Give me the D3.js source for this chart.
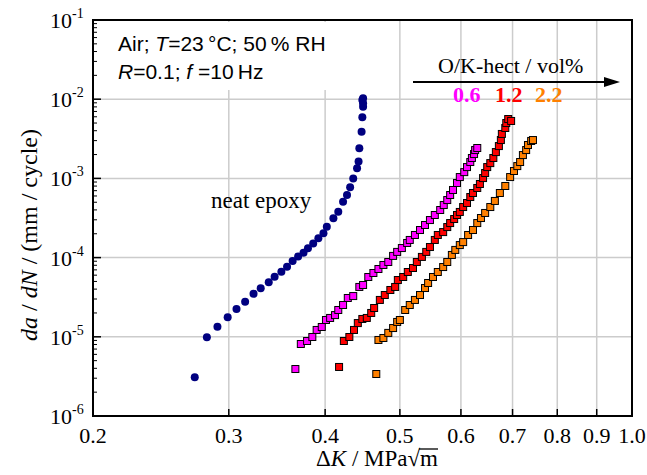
<!DOCTYPE html>
<html>
<head>
<meta charset="utf-8">
<script src="https://cdn.jsdelivr.net/npm/d3@7"></script>
<style>
  body { margin: 0; background: #fff; }
  .serif { font-family: "Liberation Serif", "DejaVu Serif", "Times New Roman", Times, serif; }
  .sans { font-family: "Liberation Sans", Arial, "DejaVu Sans", sans-serif; }
</style>
</head>
<body>
<div id="chart"></div>
<script>
// tick values / labels
const xTicks = [0.2, 0.3, 0.4, 0.5, 0.6, 0.7, 0.8, 0.9, 1.0];
const xTickLabels = ["0.2", "0.3", "0.4", "0.5", "0.6", "0.7", "0.8", "0.9", "1.0"];
const yExponents = [-1, -2, -3, -4, -5, -6];

// [dK (MPa m^0.5), da/dN (mm/cycle)]
const neatEpoxy = [
  [0.271, 3.08e-6], [0.281, 9.86e-6], [0.290, 1.34e-5], [0.299, 1.76e-5], [0.307, 2.24e-5],
  [0.315, 2.77e-5], [0.323, 3.50e-5], [0.330, 4.09e-5], [0.338, 4.88e-5], [0.344, 5.74e-5],
  [0.351, 6.64e-5], [0.357, 7.67e-5], [0.363, 9.06e-5], [0.369, 1.03e-4], [0.375, 1.15e-4],
  [0.380, 1.31e-4], [0.386, 1.51e-4], [0.392, 1.75e-4], [0.398, 2.03e-4], [0.402, 2.46e-4],
  [0.410, 3.13e-4], [0.416, 3.80e-4], [0.422, 5.08e-4], [0.427, 6.17e-4], [0.431, 7.71e-4],
  [0.435, 1.00e-3], [0.440, 1.34e-3], [0.442, 1.63e-3], [0.443, 2.40e-3], [0.446, 3.89e-3],
  [0.447, 5.91e-3], [0.448, 8.04e-3], [0.448, 8.87e-3], [0.447, 9.77e-3], [0.448, 1.03e-2]
];
const hect06 = [
  [0.366, 3.92e-6], [0.372, 8.11e-6], [0.379, 8.85e-6], [0.385, 9.94e-6], [0.390, 1.22e-5],
  [0.396, 1.33e-5], [0.401, 1.63e-5], [0.406, 1.73e-5], [0.412, 1.88e-5], [0.416, 2.18e-5],
  [0.422, 2.52e-5], [0.428, 3.09e-5], [0.435, 3.27e-5], [0.443, 4.26e-5], [0.448, 4.51e-5],
  [0.455, 5.69e-5], [0.462, 6.39e-5], [0.469, 7.18e-5], [0.476, 8.07e-5], [0.483, 8.80e-5],
  [0.490, 1.05e-4], [0.496, 1.18e-4], [0.503, 1.32e-4], [0.511, 1.53e-4], [0.515, 1.67e-4],
  [0.523, 1.93e-4], [0.531, 2.23e-4], [0.539, 2.58e-4], [0.547, 2.98e-4], [0.555, 3.45e-4],
  [0.564, 3.99e-4], [0.570, 4.61e-4], [0.576, 5.33e-4], [0.581, 6.17e-4], [0.586, 7.14e-4],
  [0.593, 8.75e-4], [0.598, 1.04e-3], [0.606, 1.20e-3], [0.611, 1.39e-3], [0.617, 1.61e-3],
  [0.620, 1.81e-3], [0.624, 2.03e-3], [0.626, 2.28e-3], [0.630, 2.42e-3]
];
const hect12 = [
  [0.417, 4.16e-6], [0.423, 8.85e-6], [0.430, 9.94e-6], [0.436, 1.22e-5], [0.441, 1.49e-5],
  [0.447, 1.68e-5], [0.453, 1.73e-5], [0.459, 2.00e-5], [0.463, 2.31e-5], [0.471, 2.92e-5],
  [0.478, 3.37e-5], [0.486, 3.90e-5], [0.493, 4.26e-5], [0.497, 5.21e-5], [0.505, 5.69e-5],
  [0.512, 6.58e-5], [0.520, 7.39e-5], [0.526, 8.80e-5], [0.534, 1.02e-4], [0.541, 1.18e-4],
  [0.547, 1.36e-4], [0.555, 1.67e-4], [0.560, 1.93e-4], [0.569, 2.10e-4], [0.576, 2.43e-4],
  [0.581, 2.73e-4], [0.588, 3.07e-4], [0.593, 3.45e-4], [0.598, 3.77e-4], [0.604, 4.35e-4],
  [0.611, 4.89e-4], [0.617, 5.82e-4], [0.622, 6.54e-4], [0.630, 7.57e-4], [0.635, 8.50e-4],
  [0.641, 1.01e-3], [0.645, 1.17e-3], [0.649, 1.39e-3], [0.655, 1.56e-3], [0.661, 1.81e-3],
  [0.666, 2.15e-3], [0.672, 2.56e-3], [0.676, 3.05e-3], [0.678, 3.64e-3], [0.685, 4.33e-3],
  [0.687, 5.00e-3], [0.691, 5.62e-3], [0.697, 5.31e-3]
];
const hect22 = [
  [0.466, 3.39e-6], [0.469, 9.12e-6], [0.476, 9.66e-6], [0.483, 1.12e-5], [0.490, 1.29e-5],
  [0.496, 1.54e-5], [0.500, 1.63e-5], [0.508, 2.18e-5], [0.515, 2.52e-5], [0.523, 2.92e-5],
  [0.531, 3.37e-5], [0.539, 4.13e-5], [0.544, 4.78e-5], [0.552, 5.69e-5], [0.560, 6.58e-5],
  [0.569, 7.60e-5], [0.576, 8.80e-5], [0.584, 1.08e-4], [0.590, 1.25e-4], [0.598, 1.44e-4],
  [0.604, 1.57e-4], [0.613, 1.93e-4], [0.622, 2.23e-4], [0.630, 2.73e-4], [0.637, 3.16e-4],
  [0.645, 3.66e-4], [0.655, 4.35e-4], [0.664, 5.19e-4], [0.674, 6.54e-4], [0.685, 8.02e-4],
  [0.695, 1.04e-3], [0.703, 1.24e-3], [0.710, 1.43e-3], [0.716, 1.61e-3], [0.722, 1.97e-3],
  [0.729, 2.28e-3], [0.733, 2.64e-3], [0.740, 2.97e-3], [0.744, 3.05e-3]
];
const hectNames = ["0.6", "1.2", "2.2"];
const hectColors = ["#ff00ff", "#ff0000", "#ff8000"];
const hectSeries = [hect06, hect12, hect22];

const W = 647, H = 475;
var margin = { top: 20, right: 15, bottom: 59, left: 93 },
  width = W - margin.left - margin.right,
  height = H - margin.top - margin.bottom;

var svg = d3.select("#chart").append("svg")
  .attr("width", W).attr("height", H);
var g = svg.append("g")
  .attr("transform", "translate(" + margin.left + "," + margin.top + ")");

var x = d3.scaleLog().domain([0.2, 1.0]).range([0, width]);
var y = d3.scaleLog().domain([1e-6, 1e-1]).range([height, 0]);

// grid
g.selectAll(".vgrid").data(xTicks.slice(1, -1)).enter().append("line")
  .attr("x1", d => x(d)).attr("x2", d => x(d))
  .attr("y1", 0).attr("y2", height)
  .attr("stroke", "#cccccc").attr("stroke-width", 1.5);
g.selectAll(".hgrid").data(yExponents.slice(1, -1)).enter().append("line")
  .attr("x1", 0).attr("x2", width)
  .attr("y1", d => y(Math.pow(10, d))).attr("y2", d => y(Math.pow(10, d)))
  .attr("stroke", "#cccccc").attr("stroke-width", 1.5);

// white box behind the test conditions
g.append("rect").attr("x", 2).attr("y", 2).attr("width", 250).attr("height", 68)
  .attr("fill", "#fff");

// ticks (inward)
var minor = [];
for (let e = -6; e < -1; e++) for (let m = 2; m <= 9; m++) minor.push(m * Math.pow(10, e));
g.selectAll(".ymin").data(minor).enter().append("line")
  .attr("x1", 0).attr("x2", 4)
  .attr("y1", d => y(d)).attr("y2", d => y(d))
  .attr("stroke", "#000").attr("stroke-width", 1);
g.selectAll(".ymaj").data(yExponents).enter().append("line")
  .attr("x1", 0).attr("x2", 8)
  .attr("y1", d => y(Math.pow(10, d))).attr("y2", d => y(Math.pow(10, d)))
  .attr("stroke", "#000").attr("stroke-width", 1.5);
g.selectAll(".xmaj").data(xTicks.slice(1, -1)).enter().append("line")
  .attr("x1", d => x(d)).attr("x2", d => x(d))
  .attr("y1", height).attr("y2", height - 7)
  .attr("stroke", "#000").attr("stroke-width", 1.5);

// tick labels
g.selectAll(".ylab").data(yExponents).enter().append("text")
  .attr("class", "serif")
  .attr("x", -21).attr("y", d => y(Math.pow(10, d)) + 8)
  .attr("text-anchor", "end")
  .style("font-size", "22px")
  .text("10");
g.selectAll(".ysup").data(yExponents).enter().append("text")
  .attr("class", "serif")
  .attr("x", -21).attr("y", d => y(Math.pow(10, d)) - 2)
  .style("font-size", "14px")
  .text(d => "-" + Math.abs(d));
g.selectAll(".xlab").data(xTicks).enter().append("text")
  .attr("class", "serif")
  .attr("x", d => x(d)).attr("y", height + 27)
  .attr("text-anchor", "middle")
  .style("font-size", "22px")
  .text((d, i) => xTickLabels[i]);

// axis titles
var xt = svg.append("text").attr("class", "serif")
  .attr("x", 377).attr("y", 466)
  .attr("text-anchor", "middle")
  .style("font-size", "23px");
xt.append("tspan").text("\u0394");
xt.append("tspan").style("font-style", "italic").text("K");
xt.append("tspan").text(" / MPa\u221am");
// overline over the final "m"
var xtNode = xt.node();
var nChars = xtNode.getNumberOfChars();
var mBox = xtNode.getExtentOfChar(nChars - 1);
svg.append("line")
  .attr("x1", mBox.x - 1).attr("x2", mBox.x + mBox.width)
  .attr("y1", mBox.y + 3).attr("y2", mBox.y + 3)
  .attr("stroke", "#000").attr("stroke-width", 1.3);

var yt = svg.append("text").attr("class", "serif")
  .attr("transform", "translate(37,235) rotate(-90)")
  .attr("text-anchor", "middle")
  .style("font-size", "24px");
yt.append("tspan").style("font-style", "italic").text("da");
yt.append("tspan").text(" / ");
yt.append("tspan").style("font-style", "italic").text("dN");
yt.append("tspan").text(" / (mm / cycle)");

// data
hectSeries.forEach((s, i) => {
  g.selectAll(".sq" + i).data(s).enter().append("rect")
    .attr("x", d => x(d[0]) - 3.5).attr("y", d => y(d[1]) - 3.5)
    .attr("width", 7).attr("height", 7)
    .attr("fill", hectColors[i]).attr("stroke", "#000").attr("stroke-width", 1);
});
g.selectAll(".dot").data(neatEpoxy).enter().append("circle")
  .attr("cx", d => x(d[0])).attr("cy", d => y(d[1])).attr("r", 4)
  .attr("fill", "#000080");

// frame
g.append("rect").attr("width", width).attr("height", height)
  .attr("fill", "none").attr("stroke", "#000").attr("stroke-width", 2);

// annotations
var a1 = svg.append("text").attr("class", "sans").attr("x", 118).attr("y", 51)
  .style("font-size", "21px");
a1.append("tspan").text("Air; ");
a1.append("tspan").style("font-style", "italic").text("T");
a1.append("tspan").text("=23\u2009\u00b0C; 50\u2009% RH");
var a2 = svg.append("text").attr("class", "sans").attr("x", 118).attr("y", 79)
  .style("font-size", "21px");
a2.append("tspan").style("font-style", "italic").text("R");
a2.append("tspan").text("=0.1; ");
a2.append("tspan").style("font-style", "italic").text("f");
a2.append("tspan").text(" =10\u2009Hz");

svg.append("text").attr("class", "serif").attr("x", 211).attr("y", 208)
  .style("font-size", "23px")
  .text("neat epoxy");

svg.append("text").attr("class", "serif").attr("x", 438).attr("y", 73)
  .style("font-size", "22px")
  .text("O/K-hect / vol%");
svg.append("line").attr("x1", 413).attr("x2", 608).attr("y1", 82).attr("y2", 82)
  .attr("stroke", "#000").attr("stroke-width", 2);
svg.append("path").attr("d", "M620,82 L604,77 L604,87 Z").attr("fill", "#000");

var legX = [453, 495, 535];
hectNames.forEach((n, i) => {
  svg.append("text").attr("class", "serif").attr("x", legX[i]).attr("y", 102)
    .style("font-size", "22px").style("font-weight", "bold")
    .attr("fill", hectColors[i]).text(n);
});
</script>
</body>
</html>
